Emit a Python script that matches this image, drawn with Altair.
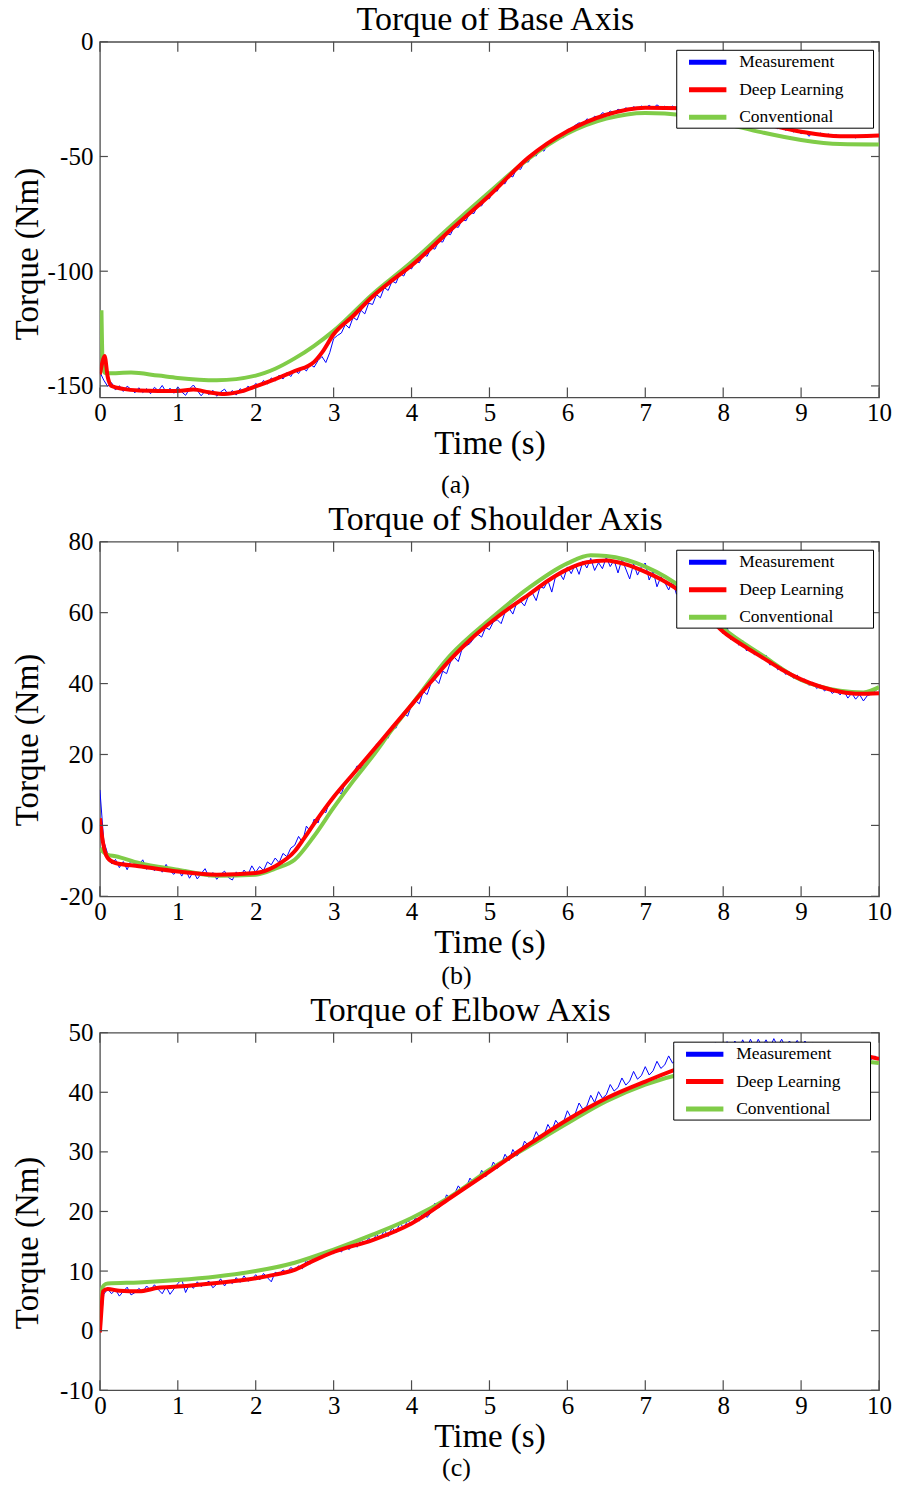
import altair as alt
import pandas as pd

FONT = "Liberation Serif"
SERIES = ["Measurement", "Deep Learning", "Conventional"]
COLORS = ["#0000ff", "#ff0000", "#80cc48"]
BOX = "#4d4d4d"

X_TICKS = [0, 1, 2, 3, 4, 5, 6, 7, 8, 9, 10]
MEAS_STEP = 0.05

# ---------------- Panel (a): Base axis ----------------
A_TITLE = "Torque of Base Axis"
A_CAPTION = "(a)"
A_YDOMAIN = [-155, 0]
A_YTICKS = [-150, -100, -50, 0]
A_MEAS = [
    -144.0, -147.5, -150.2, -148.6, -151.8, -149.9, -152.4, -150.1, -151.5, -153.0,
    -150.8, -152.9, -151.2, -153.4, -150.6, -152.1, -149.8, -152.7, -151.0, -153.2,
    -150.4, -152.6, -154.1, -151.3, -149.6, -152.0, -154.3, -152.2, -153.8, -151.9,
    -154.5, -152.6, -151.4, -153.9, -152.0, -154.0, -151.2, -152.8, -150.1, -151.6,
    -148.9, -150.3, -147.6, -149.2, -146.5, -147.9, -145.3, -147.0, -144.2, -145.9,
    -143.1, -144.6, -141.9, -143.5, -140.6, -141.8, -138.9, -137.2, -139.8, -135.5,
    -129.4, -128.0, -126.9, -123.2, -124.8, -120.1, -121.3, -117.0, -118.6, -113.9,
    -114.5, -110.2, -111.6, -107.1, -108.4, -104.3, -105.2, -101.0, -102.1, -98.4,
    -99.0, -95.6, -96.3, -92.7, -93.5, -89.8, -90.4, -86.9, -87.3, -83.6,
    -84.1, -80.4, -80.9, -77.6, -78.0, -74.3, -74.9, -71.4, -71.5, -68.2,
    -68.4, -64.7, -65.1, -61.5, -61.9, -58.2, -58.9, -55.1, -55.6, -52.3,
    -52.4, -49.0, -49.8, -46.4, -47.7, -44.2, -43.5, -42.9, -40.6, -41.8,
    -38.2, -37.9, -36.4, -35.3, -35.9, -33.6, -34.2, -32.4, -33.1, -30.9,
    -31.6, -30.2, -30.9, -29.4, -30.0, -28.8, -29.5, -28.3, -29.1, -28.0,
    -28.8, -27.7, -28.9, -27.5, -28.6, -28.1, -29.2, -28.0, -29.0, -28.3,
    -29.6, -28.8, -30.1, -29.3, -30.6, -29.9, -31.2, -30.5, -31.8, -31.0,
    -32.4, -31.6, -33.2, -32.4, -34.0, -33.1, -34.9, -34.0, -35.6, -34.8,
    -36.4, -35.7, -37.1, -36.4, -37.9, -37.2, -38.6, -37.8, -39.3, -38.5,
    -40.1, -38.9, -41.2, -39.6, -40.4, -39.8, -41.0, -40.2, -41.3, -40.5,
    -41.6, -40.8, -41.7, -41.0, -41.9, -41.1, -41.6, -40.9, -41.4, -40.6,
    -40.9,
]
A_DL_T = [0.0, 0.03, 0.06, 0.1, 0.15, 0.3, 0.5, 0.75, 1.0, 1.2, 1.4, 1.6, 1.8, 2.0, 2.25,
          2.5, 2.75, 2.85, 3.0, 3.25, 3.5, 3.75, 4.0, 4.5, 5.0, 5.5, 6.0, 6.5, 7.0, 7.5,
          8.0, 8.5, 9.0, 9.5, 10.0]
A_DL = [-145, -140, -137, -146, -150, -151.3, -152, -152.2, -152.2, -151.6, -152.8, -153.5,
        -152.5, -150.2, -147, -143.5, -139.5, -135.5, -127.5, -119.5, -111, -104, -97.5,
        -82, -67, -50.5, -39, -31.8, -28.7, -29, -31.5, -35.5, -39.2, -41.2, -40.8]
A_CONV_T = [0.02, 0.035, 0.06, 0.1, 0.4, 0.75, 1.0, 1.5, 2.0, 2.25, 2.5, 2.75, 3.0, 3.5,
            4.0, 4.5, 5.0, 5.5, 6.0, 6.5, 7.0, 7.5, 8.0, 8.5, 9.0, 9.5, 10.0]
A_CONV = [-117, -140, -144.2, -144.5, -144.2, -145.5, -146.5, -147.5, -145.5, -142.5, -138,
          -132.5, -126, -110, -96, -80.5, -65.5, -51, -40, -33.5, -31, -32, -35.5, -39.5,
          -42.8, -44.6, -44.8]

# ---------------- Panel (b): Shoulder axis ----------------
B_TITLE = "Torque of Shoulder Axis"
B_CAPTION = "(b)"
B_YDOMAIN = [-20, 80]
B_YTICKS = [-20, 0, 20, 40, 60, 80]
B_MEAS = [
    10.0, -4.5, -8.0, -10.8, -9.6, -11.9, -10.2, -12.5, -9.8, -11.0,
    -11.3, -9.7, -12.4, -10.9, -12.8, -11.5, -13.2, -11.0, -12.9, -13.8,
    -12.1, -14.3, -12.5, -14.9, -13.0, -15.1, -13.6, -12.2, -14.6, -13.3,
    -15.2, -13.8, -12.9, -14.7, -15.4, -13.1, -14.5, -12.6, -13.9, -11.4,
    -13.2, -11.6, -12.7, -10.3, -11.1, -9.2, -10.5, -7.9, -8.8, -6.4,
    -5.6, -3.1, -4.8, -0.2, -1.6, 1.8, 0.7, 4.3, 3.6, 6.9,
    7.8, 9.6, 8.9, 12.1, 13.0, 14.2, 16.8, 15.9, 18.6, 19.2,
    21.0, 22.9, 22.1, 25.3, 24.6, 28.1, 27.4, 30.2, 31.6, 30.8,
    33.9, 35.2, 34.3, 37.8, 36.9, 40.1, 41.2, 40.0, 43.5, 42.8,
    46.1, 47.4, 46.2, 49.9, 50.6, 51.3, 52.8, 53.9, 53.1, 55.8,
    55.2, 57.4, 58.0, 56.9, 60.1, 61.3, 59.6, 62.8, 63.2, 61.9,
    64.7, 65.6, 63.4, 67.3, 66.9, 69.1, 65.8, 70.4, 71.2, 69.3,
    72.9, 71.0, 73.6, 70.8, 74.5, 72.6, 75.3, 71.9, 74.1, 72.4,
    75.6, 73.0, 74.8, 71.2, 75.1, 72.3, 69.5, 73.8, 70.6, 72.9,
    74.0, 69.2, 71.8, 67.3, 70.1, 68.5, 66.4, 69.0, 65.2, 67.1,
    64.3, 66.0, 62.1, 63.5, 60.4, 61.8, 58.2, 59.6, 56.5, 57.0,
    54.0, 55.9, 52.3, 53.4, 50.8, 52.1, 49.2, 50.5, 48.1, 48.9,
    46.9, 48.0, 45.2, 46.1, 43.9, 44.7, 42.6, 43.3, 41.5, 42.4,
    40.6, 41.3, 39.5, 40.4, 38.6, 39.6, 37.9, 38.8, 37.2, 38.1,
    36.8, 37.9, 35.9, 37.3, 35.6, 36.9, 35.1, 36.6, 37.0, 37.8,
    39.0,
]
B_DL_T = [0.0, 0.03, 0.06, 0.1, 0.2, 0.5, 1.0, 1.5, 2.0, 2.25, 2.5, 2.625, 2.75, 3.0, 3.25,
          3.5, 3.75, 4.0, 4.25, 4.5, 4.75, 5.0, 5.25, 5.5, 5.75, 6.0, 6.25, 6.5, 6.75, 7.0,
          7.25, 7.5, 7.75, 8.0, 8.25, 8.5, 8.75, 9.0, 9.25, 9.5, 9.75, 10.0]
B_DL = [2, -3.5, -7, -9.2, -10.6, -11.5, -13, -13.9, -13.4, -11.5, -7.3, -3.5, 0.5, 8.0,
        14.5, 21, 27.5, 34, 40.5, 46.8, 52.3, 57, 61.2, 65, 69, 72.2, 74.2, 74.7, 73.6,
        71.5, 68.8, 65.2, 60.2, 54.6, 50.8, 47.4, 44, 41.2, 39.1, 37.7, 37.1, 37.3]
B_CONV_T = [0.0, 0.1, 0.2, 0.5, 1.0, 1.5, 2.0, 2.25, 2.5, 2.75, 3.0, 3.25, 3.5, 3.75, 4.0,
            4.5, 5.0, 5.5, 6.0, 6.3, 6.5, 7.0, 7.5, 8.0, 8.5, 9.0, 9.5, 9.8, 10.0]
B_CONV = [-6.5, -8.3, -8.7, -10.6, -12.5, -14.2, -13.9, -12.2, -9.7, -3, 5, 12.5, 19.5, 27,
          34, 48, 58, 66.9, 73.9, 76.2, 76, 73, 66.5, 55.6, 48, 41, 38, 37.5, 39]

# ---------------- Panel (c): Elbow axis ----------------
C_TITLE = "Torque of Elbow Axis"
C_CAPTION = "(c)"
C_YDOMAIN = [-10, 50]
C_YTICKS = [-10, 0, 10, 20, 30, 40, 50]
C_MEAS = [
    0.0, 6.1, 7.0, 6.2, 6.9, 5.8, 6.6, 7.3, 6.0, 6.4,
    7.1, 6.5, 7.5, 6.8, 7.7, 6.9, 6.2, 7.4, 6.1, 7.0,
    7.9, 8.6, 6.4, 7.8, 7.1, 8.2, 7.4, 7.9, 8.3, 7.2,
    7.8, 8.7, 7.5, 8.4, 7.9, 8.9, 8.1, 9.2, 8.3, 8.6,
    9.4, 8.5, 9.6, 8.9, 8.2, 9.8, 9.5, 10.2, 9.7, 10.6,
    10.1, 10.9, 10.4, 11.8, 11.2, 12.6, 11.9, 13.1, 12.4, 13.5,
    12.9, 13.8, 13.2, 14.1, 13.6, 14.7, 14.0, 15.3, 14.6, 15.5,
    15.0, 16.2, 15.4, 16.9, 15.8, 17.3, 16.4, 18.1, 17.2, 18.5,
    17.9, 18.9, 18.4, 20.1, 19.0, 19.8, 21.4, 20.6, 21.2, 22.8,
    22.1, 22.9, 24.3, 23.4, 24.0, 25.6, 24.7, 25.3, 26.9, 25.8,
    26.6, 28.3, 27.2, 27.9, 29.6, 28.5, 30.4, 29.3, 29.9, 31.8,
    31.0, 31.7, 33.4, 32.2, 32.8, 34.6, 33.5, 35.3, 34.4, 35.0,
    36.9, 35.7, 36.4, 38.2, 37.1, 37.7, 39.5, 38.3, 40.1, 39.0,
    39.6, 41.3, 40.2, 40.8, 42.4, 41.2, 41.9, 43.5, 42.2, 42.8,
    44.3, 42.9, 43.6, 45.2, 44.0, 44.6, 46.1, 44.9, 45.5, 46.8,
    45.3, 46.0, 47.5, 46.2, 46.7, 48.0, 46.6, 47.2, 48.4, 47.1,
    46.8, 48.5, 47.0, 48.6, 47.2, 48.8, 47.3, 48.9, 47.4, 48.9,
    47.6, 48.8, 47.5, 49.0, 47.7, 48.9, 47.6, 48.6, 47.8, 48.7,
    47.5, 48.6, 47.3, 48.3, 47.2, 48.1, 46.9, 47.9, 46.8, 47.6,
    46.5, 47.4, 46.3, 47.0, 46.0, 46.8, 45.7, 46.4, 45.5, 46.1,
    45.4,
]
C_DL_T = [0.0, 0.02, 0.04, 0.1, 0.25, 0.5, 0.75, 1.0, 1.5, 2.0, 2.25, 2.5, 2.75, 3.0, 3.5,
          4.0, 4.5, 5.0, 5.5, 6.0, 6.5, 7.0, 7.5, 8.0, 8.5, 9.0, 9.5, 9.75, 10.0]
C_DL = [-0.3, 3.5, 6.6, 7.0, 6.7, 6.6, 7.2, 7.4, 8.0, 8.8, 9.4, 10.2, 11.8, 13.2, 15.2, 18.0,
        22.3, 26.7, 31.2, 35.4, 39.0, 41.8, 44.3, 45.8, 46.7, 47.1, 46.8, 46.3, 45.6]
C_CONV_T = [0.0, 0.02, 0.05, 0.1, 0.5, 1.0, 1.5, 2.0, 2.5, 3.0, 3.5, 4.0, 4.5, 5.0, 5.5, 6.0,
            6.5, 7.0, 7.5, 8.0, 8.5, 9.0, 9.5, 10.0]
C_CONV = [0.0, 6.8, 7.6, 7.9, 8.1, 8.5, 9.1, 10.0, 11.4, 13.6, 16.1, 18.9, 22.5, 27.0, 30.9,
          34.8, 38.5, 41.3, 43.2, 44.3, 45.0, 45.4, 45.4, 44.9]

LEGEND_SPACER = "W" * 103  # invisible legend title, only sets the legend box width


def panel(title, title_dx, caption, meas, dl_t, dl, conv_t, conv, ydom, yticks,
          w, h, ytitle_x, ytitle_y, leg_x, leg_y, cap_x, cap_dy):
    meas_df = pd.DataFrame({
        "t": [round(i * MEAS_STEP, 2) for i in range(len(meas))],
        "v": meas, "series": "Measurement"})
    dl_df = pd.DataFrame({"t": dl_t, "v": dl, "series": "Deep Learning"})
    conv_df = pd.DataFrame({"t": conv_t, "v": conv, "series": "Conventional"})

    x_axis = alt.Axis(values=X_TICKS, title="Time (s)", labelFlush=False,
                      labelPadding=3, titlePadding=2, labelOverlap=False,
                      labelExpr="'' + datum.value")
    y_axis = alt.Axis(values=yticks, title="Torque (Nm)", labelPadding=7,
                      titleX=ytitle_x, titleY=ytitle_y, labelOverlap=False,
                      labelExpr="'' + datum.value")
    X = alt.X("t:Q", scale=alt.Scale(domain=[0, 10], nice=False, zero=False), axis=x_axis)
    Y = alt.Y("v:Q", scale=alt.Scale(domain=ydom, nice=False, zero=False), axis=y_axis)
    color = alt.Color(
        "series:N",
        scale=alt.Scale(domain=SERIES, range=COLORS),
        legend=alt.Legend(
            title=LEGEND_SPACER, titleFontSize=2, titleColor="white", titlePadding=0,
            titleLimit=400,
            orient="none", legendX=leg_x, legendY=leg_y,
            fillColor="white", strokeColor="black", padding=1,
            symbolType="stroke", symbolSize=1400, symbolStrokeWidth=5,
            symbolOffset=9, clipHeight=19, rowPadding=8.5, labelOffset=10,
            labelFont=FONT, labelFontSize=17.5, labelColor="black",
        ),
    )

    meas_line = alt.Chart(meas_df).mark_line(strokeWidth=1, clip=True).encode(
        x=X, y=Y, color=color)
    conv_line = alt.Chart(conv_df).mark_line(strokeWidth=4, interpolate="monotone",
                                             clip=True).encode(x=X, y=Y, color=color)
    dl_line = alt.Chart(dl_df).mark_line(strokeWidth=4, interpolate="monotone",
                                         clip=True).encode(x=X, y=Y, color=color)

    xt = pd.DataFrame({"t": X_TICKS})
    yt = pd.DataFrame({"v": yticks})
    tick_bottom = alt.Chart(xt).mark_rule(color=BOX, strokeWidth=1.2).encode(
        x=X, y=alt.value(h), y2=alt.value(h - 10))
    tick_top = alt.Chart(xt).mark_rule(color=BOX, strokeWidth=1.2).encode(
        x=X, y=alt.value(0), y2=alt.value(10))
    tick_left = alt.Chart(yt).mark_rule(color=BOX, strokeWidth=1.2).encode(
        y=Y, x=alt.value(0), x2=alt.value(8))
    tick_right = alt.Chart(yt).mark_rule(color=BOX, strokeWidth=1.2).encode(
        y=Y, x=alt.value(w), x2=alt.value(w - 8))

    cap = alt.Chart(pd.DataFrame({"c": [caption]})).mark_text(
        font=FONT, fontSize=26, color="black", baseline="middle", align="center"
    ).encode(x=alt.value(cap_x), y=alt.value(h + cap_dy), text="c:N")

    return alt.layer(
        meas_line, conv_line, dl_line, tick_bottom, tick_top, tick_left, tick_right, cap
    ).properties(
        width=w, height=h,
        title=alt.TitleParams(title, font=FONT, fontSize=34, fontWeight="normal",
                              color="black", offset=-7.5, anchor="middle", dx=title_dx),
    )


pa = panel(A_TITLE, 6, A_CAPTION, A_MEAS, A_DL_T, A_DL, A_CONV_T, A_CONV, A_YDOMAIN,
           A_YTICKS, 780, 356, -55, 212, 577, 8, 356, 88)
pb = panel(B_TITLE, 6, B_CAPTION, B_MEAS, B_DL_T, B_DL, B_CONV_T, B_CONV, B_YDOMAIN,
           B_YTICKS, 780, 355, -55, 198, 577, 8, 357, 80)
pc = panel(C_TITLE, -29, C_CAPTION, C_MEAS, C_DL_T, C_DL, C_CONV_T, C_CONV, C_YDOMAIN,
           C_YTICKS, 780, 358, -55, 210, 574, 9, 357, 78)

chart = alt.vconcat(pa, pb, pc, spacing=2.5).resolve_scale(
    color="independent"
).properties(
    padding={"left": 3, "right": 0, "top": -7, "bottom": 0},
    background="white",
).configure_view(
    stroke=BOX, strokeWidth=1.3
).configure_axis(
    domain=False, ticks=False, grid=False,
    labelFont=FONT, labelFontSize=25, labelColor="black",
    titleFont=FONT, titleFontSize=33, titleFontWeight="normal", titleColor="black",
)

chart.save("out.html", embed_options={"renderer": "svg", "actions": False})
